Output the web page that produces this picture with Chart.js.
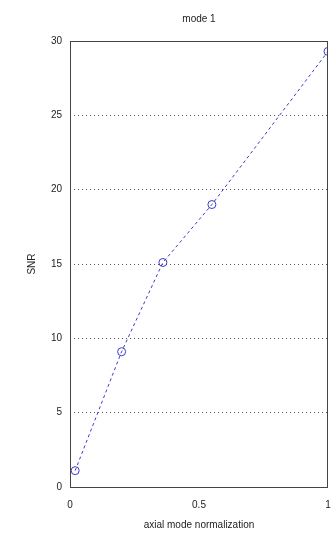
<!DOCTYPE html>
<html>
<head>
<meta charset="utf-8">
<script src="https://cdn.jsdelivr.net/npm/chart.js@4/dist/chart.umd.min.js"></script>
<style>
  html, body { margin: 0; padding: 0; background: #fff; }
  #wrap { width: 333px; height: 539px; }
</style>
</head>
<body>
<div id="wrap"><canvas id="modeChart" width="333" height="539"></canvas></div>
<script>
var xValues = [0.02, 0.2, 0.36, 0.55, 1.0];
var yValues = [1.1, 9.1, 15.1, 19.0, 29.3];
var yTicks = [0, 5, 10, 15, 20, 25, 30];
var xTicks = [0, 0.5, 1];

var points = xValues.map(function (x, i) { return { x: x, y: yValues[i] }; });

// frame round the plot area plus the title
var boxPlugin = {
  id: 'box',
  afterDraw: function (chart) {
    var ctx = chart.ctx, a = chart.chartArea;
    ctx.save();
    ctx.strokeStyle = '#444';
    ctx.lineWidth = 1;
    ctx.strokeRect(a.left + 0.5, a.top + 0.5, a.right - a.left - 1, a.bottom - a.top);
    ctx.fillStyle = '#222';
    ctx.font = '10px "Liberation Sans", sans-serif';
    ctx.textAlign = 'center';
    ctx.textBaseline = 'middle';
    ctx.fillText('mode 1', (a.left + a.right) / 2, 19);
    ctx.restore();
  }
};

var bgPlugin = {
  id: 'bg',
  beforeDraw: function (chart) {
    var ctx = chart.ctx;
    ctx.save();
    ctx.fillStyle = '#fff';
    ctx.fillRect(0, 0, chart.width, chart.height);
    ctx.restore();
  }
};

new Chart(document.getElementById('modeChart').getContext('2d'), {
  type: 'scatter',
  data: {
    datasets: [{
      label: 'mode 1',
      data: points,
      showLine: true,
      borderColor: '#3a3acc',
      borderWidth: 1,
      borderDash: [3, 3],
      pointStyle: 'circle',
      pointRadius: 4,
      pointBorderColor: '#3a3acc',
      pointBackgroundColor: 'rgba(0,0,0,0)',
      pointBorderWidth: 1
    }]
  },
  options: {
    responsive: false,
    animation: false,
    layout: { padding: { top: 41, right: 0, left: 22, bottom: 0 } },
    plugins: { legend: { display: false }, tooltip: { enabled: false } },
    scales: {
      x: {
        type: 'linear',
        min: 0,
        max: 1,
        afterBuildTicks: function (s) { s.ticks = xTicks.map(function (v) { return { value: v }; }); },
        afterFit: function (s) { s.height = 52; s.paddingRight = 0; },
        grid: { display: false },
        border: { display: false },
        ticks: {
          color: '#222', font: { family: 'Liberation Sans', size: 10 }, padding: 4, maxRotation: 0,
          callback: function (v) { return String(v); }
        },
        title: { display: true, text: 'axial mode normalization', color: '#222', font: { family: 'Liberation Sans', size: 10 }, padding: { top: 2, bottom: 8 } }
      },
      y: {
        type: 'linear',
        min: 0,
        max: 30,
        afterBuildTicks: function (s) { s.ticks = yTicks.map(function (v) { return { value: v }; }); },
        afterFit: function (s) { s.width = 48; },
        grid: { color: '#555', lineWidth: 1, drawTicks: false },
        border: { display: false, dash: [1, 3] },
        ticks: { color: '#222', font: { family: 'Liberation Sans', size: 10 }, padding: 8 },
        title: { display: true, text: 'SNR', color: '#222', font: { family: 'Liberation Sans', size: 10 }, padding: { bottom: 8 } }
      }
    }
  },
  plugins: [bgPlugin, boxPlugin]
});
</script>
</body>
</html>
